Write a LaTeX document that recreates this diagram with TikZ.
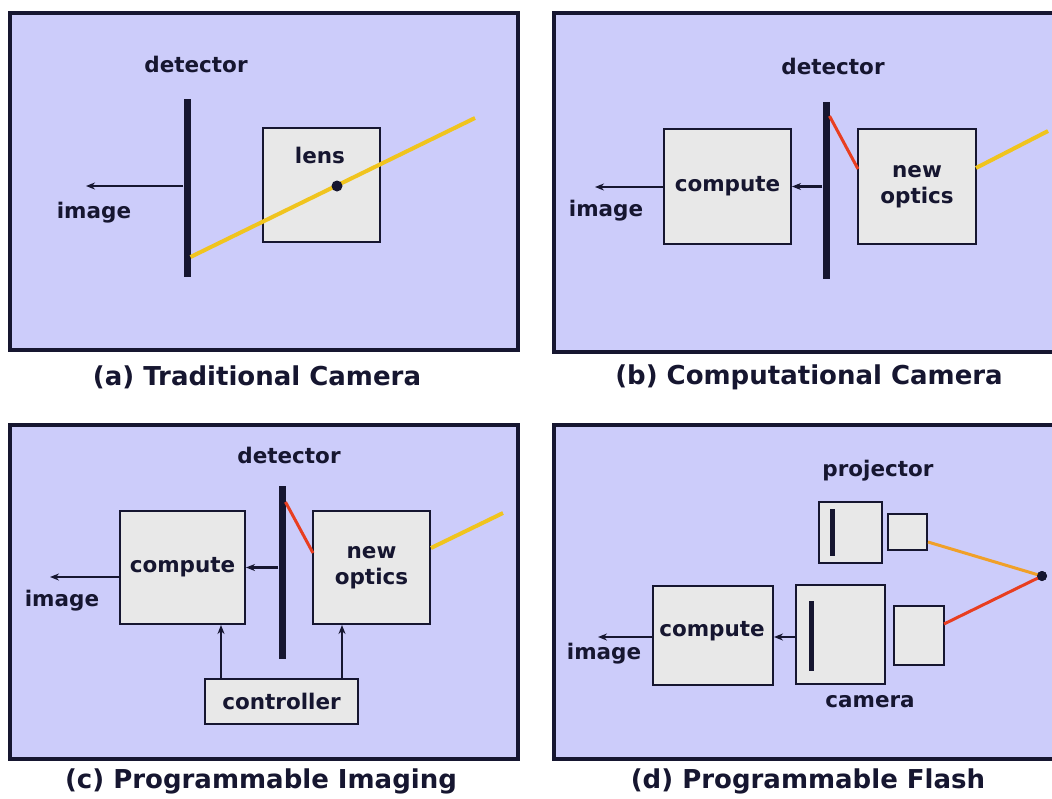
\documentclass[tikz,border=0pt]{standalone}
\usepackage{fontspec}
\setmainfont{DejaVu Sans}
\usetikzlibrary{arrows.meta,calc}
\definecolor{bgc}{RGB}{204,204,250}
\definecolor{boxc}{RGB}{232,232,232}
\definecolor{ink}{RGB}{22,22,48}
\definecolor{goldc}{RGB}{240,196,30}
\definecolor{redc}{RGB}{232,62,32}
\definecolor{orangec}{RGB}{240,160,40}
\tikzset{
  frame/.style={draw=ink,fill=bgc,line width=3.5pt},
  box/.style={draw=ink,fill=boxc,line width=2pt,inner sep=0pt,
    font=\fontsize{21.5}{26}\selectfont\bfseries,text=ink,align=center},
  lbl/.style={inner sep=0pt,font=\fontsize{21.5}{26}\selectfont\bfseries,text=ink,align=center},
  captxt/.style={inner sep=0pt,font=\fontsize{26}{30}\selectfont\bfseries,text=ink},
  bar/.style={fill=ink,inner sep=0pt,minimum width=7pt},
  thinbar/.style={fill=ink,inner sep=0pt,minimum width=5pt},
  arr/.style={draw=ink,line width=2.2pt,-{Stealth[length=9pt,width=7pt]}},
  yray/.style={draw=goldc,line width=4pt},
  rray/.style={draw=redc,line width=3pt},
  oray/.style={draw=orangec,line width=3pt},
  dotn/.style={circle,fill=ink,inner sep=0pt,minimum size=11pt}
}
\begin{document}
\begin{tikzpicture}[x=1pt,y=-1pt]
\useasboundingbox (0,0) rectangle (1052,798);
\clip (0,0) rectangle (1052,798);
\fill[white] (0,0) rectangle (1052,798);
% ---------- (a) ----------
\draw[frame] (10,13) rectangle (518,350);
\node[lbl] (deta) at (196,64) {detector};
\node[bar,minimum height=178pt] (bara) at (187,188) {};
\coordinate (ia) at (86,186);
\draw[arr] (bara.west |- ia) -- (ia);
\node[lbl] (imga) at (94,213) {image};
\node[box,minimum width=117pt,minimum height=114pt] (lens) at (321.5,185) {};
\node[lbl] (lenst) at (320,155) {lens};
\coordinate (ya1) at (190.5,257);
\coordinate (ya2) at (475,118);
\draw[yray] (ya1) -- (ya2);
\node[dotn] (dota) at (337,186) {};
\node[captxt] (capa) at (257,377) {(a) Traditional Camera};
% ---------- (b) ----------
\draw[frame] (554,13) rectangle (1075,352);
\node[lbl] (detb) at (833,66) {detector};
\node[bar,minimum height=177pt] (barb) at (826,190.5) {};
\node[box,minimum width=127pt,minimum height=115pt] (compb) at (727.5,186.5) {compute};
\node[box,minimum width=118pt,minimum height=115pt] (optb) at (917,186.5) {new\\optics};
\draw[arr] (barb.west |- compb.east) -- (compb.east);
\coordinate (ib) at (595,187);
\draw[arr] (compb.west |- ib) -- (ib);
\node[lbl] (imgb) at (606,211) {image};
\coordinate (rb1) at (829.5,116);
\coordinate (rb2) at (858,169);
\draw[rray] (rb1) -- (rb2);
\coordinate (yb1) at (976,168);
\coordinate (yb2) at (1048,131);
\draw[yray] (yb1) -- (yb2);
\node[captxt] (capb) at (809,377) {(b) Computational Camera};
% ---------- (c) ----------
\draw[frame] (10,425) rectangle (518,759);
\node[lbl] (detc) at (289,455) {detector};
\node[bar,minimum height=173pt] (barc) at (282,572.5) {};
\node[box,minimum width=125pt,minimum height=113pt] (compc) at (182.5,567.5) {compute};
\node[box,minimum width=117pt,minimum height=113pt] (optc) at (371.5,567.5) {new\\optics};
\node[box,minimum width=153pt,minimum height=45pt] (ctrl) at (281.5,701.5) {controller};
\draw[arr] (barc.west |- compc.east) -- (compc.east);
\coordinate (ic) at (50,577);
\draw[arr] (compc.west |- ic) -- (ic);
\node[lbl] (imgc) at (62,601) {image};
\coordinate (c1) at (221,0);
\coordinate (c2) at (342,0);
\draw[arr] (ctrl.north -| c1) -- (compc.south -| c1);
\draw[arr] (ctrl.north -| c2) -- (optc.south -| c2);
\coordinate (rc1) at (285.5,502);
\coordinate (rc2) at (313,553);
\draw[rray] (rc1) -- (rc2);
\coordinate (yc1) at (431,548);
\coordinate (yc2) at (503,513);
\draw[yray] (yc1) -- (yc2);
\node[captxt] (capc) at (261,781) {(c) Programmable Imaging};
% ---------- (d) ----------
\draw[frame] (554,425) rectangle (1075,759);
\node[lbl] (projt) at (878,471) {projector};
\node[box,minimum width=63pt,minimum height=61pt] (projb) at (850.5,532.5) {};
\node[thinbar,minimum height=47pt] (projbar) at (832,532.5) {};
\node[box,minimum width=39pt,minimum height=36pt] (projl) at (907.5,532) {};
\coordinate (od1) at (928,542);
\coordinate (rd1) at (944,624);
\node[circle,fill=ink,inner sep=0pt,minimum size=10pt] (pt) at (1042,576) {};
\draw[oray] (od1) -- (pt.center);
\node[box,minimum width=89pt,minimum height=99pt] (camb) at (840.5,634.5) {};
\node[thinbar,minimum height=70pt] (cambar) at (811,636) {};
\node[box,minimum width=50pt,minimum height=59pt] (caml) at (919,635.5) {};
\draw[rray] (rd1) -- (pt.center);
\node[circle,fill=ink,inner sep=0pt,minimum size=10pt] (pt2) at (pt) {};
\node[lbl] (camt) at (870,702) {camera};
\node[box,minimum width=120pt,minimum height=99pt] (compd) at (713,635.5) {};
\node[lbl] (compdt) at (712,631) {compute};
\coordinate (id) at (598,637);
\draw[arr] (camb.west |- id) -- (compd.east |- id);
\draw[arr] (compd.west |- id) -- (id);
\node[lbl] (imgd) at (604,654) {image};
\node[captxt] (capd) at (808,781) {(d) Programmable Flash};
\end{tikzpicture}
\end{document}
